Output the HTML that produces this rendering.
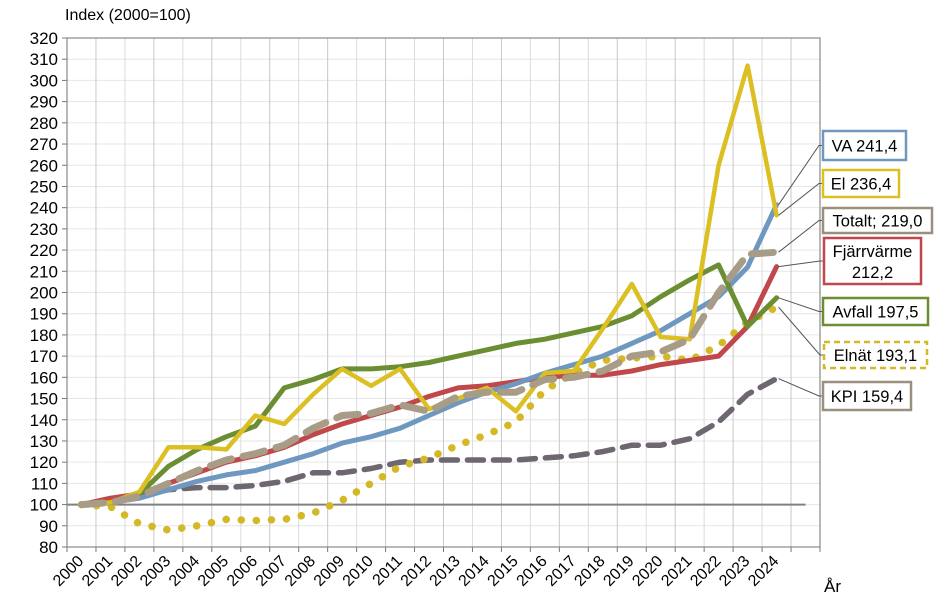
<!DOCTYPE html>
<html><head><meta charset="utf-8"><style>
html,body{margin:0;padding:0;background:#fff;}
svg{display:block;font-family:"Liberation Sans",Arial,sans-serif;}
</style></head><body>
<svg id="c" width="945" height="615" viewBox="0 0 945 615" xmlns="http://www.w3.org/2000/svg"></svg>
<script>
const S=document.getElementById('c');let h='';
const X0=67,CW=(820-67)/26,Y0=547,K=(547-38)/240;
const xd=i=>X0+CW*(i+0.5), yv=v=>Y0-(v-80)*K;
h+='<text x="65" y="20" font-size="16">Index (2000=100)</text>';
for(let v=80;v<=320;v+=10){const y=yv(v);h+=`<line x1="67" x2="820" y1="${y}" y2="${y}" stroke="#e6e6e6" stroke-width="1"/>`;h+=`<text x="58" y="${y+6}" font-size="17" text-anchor="end">${v}</text>`;h+=`<line x1="62" x2="67" y1="${y}" y2="${y}" stroke="#777"/>`;}
for(let i=0;i<=26;i++){const x=X0+CW*i;h+=`<line x1="${x}" x2="${x}" y1="38" y2="547" stroke="${i%2?'#c8c8c8':'#dcdcdc'}" stroke-width="1"/>`;h+=`<line x1="${x}" x2="${x}" y1="547" y2="552" stroke="#777"/>`;}
h+='<rect x="67" y="38" width="753" height="509" fill="none" stroke="#888" stroke-width="1.2"/>';
h+=`<line x1="67" x2="${xd(25)}" y1="${yv(100)}" y2="${yv(100)}" stroke="#808080" stroke-width="2"/>`;
for(let i=0;i<25;i++){const x=xd(i)+3,y=562;h+=`<text x="${x}" y="${y}" font-size="16" text-anchor="end" transform="rotate(-45 ${x} ${y})">${2000+i}</text>`;}
h+='<text x="824" y="592" font-size="17">År</text>';
const pts=d=>d.map((v,i)=>xd(i).toFixed(1)+','+yv(v).toFixed(1)).join(' ');
const line=(d,c,w,da,cap)=>{h+=`<polyline points="${pts(d)}" fill="none" stroke="${c}" stroke-width="${w}" stroke-linejoin="round" stroke-linecap="${cap||'round'}" ${da?`stroke-dasharray="${da}"`:''}/>`;};
const KPI=[100,102,104,107,108,108,109,111,115,115,117,120,121,121,121,121,122,123,125,128,128,131,139,152,159.4];
const EN=[100,99,91,88,90,93,92.5,93,96,102,110,118,122,128,133,139,154,162,168,169,170,168,175,186,193.1];
const RED=[100,103,105,110,115,120,123,127,133,138,142,146,151,155,156,158,160,161,161,163,166,168,170,184,212.2];
const VA=[100,101,103,107,111,114,116,120,124,129,132,136,142,148,153,157,162,166,170,176,182,190,198,212,241.4];
const GR=[100,101,105,118,126,132,137,155,159,164,164,165,167,170,173,176,178,181,184,189,198,206,213,184,197.5];
const EL=[100,101,106,127,127,126,142,138,152,164,156,164,145,150,155,144,162,163,183,204,179,178,260,307,236.4];
const TOT=[100,101,104,110,116,121,124,128,136,142,143,147,144,151,153,153,159,160,163,170,172,178,200,218,219];
line(KPI,'#6e6670',5.5,'16 10','round');
line(EN,'#d4b826',7.5,'0.1 15','round');
line(RED,'#c0474a',5);
line(VA,'#6e98bf',5);
line(GR,'#6b8e33',5);
line(EL,'#dcbf22',4.5);
line(TOT,'#a89c86',7,'22 12','round');
const cb=[
 [241.4,823,131,83,29,'#6e98bf','VA 241,4',0],
 [236.4,823,170,76,27,'#dcbf22','El 236,4',0],
 [219,823,208,109,25,'#9a9080','Totalt; 219,0',0],
 [212.2,824,238,97,46,'#c0474a','Fjärrvärme|212,2',0],
 [197.5,823,298,105,27,'#6b8e33','Avfall 197,5',0],
 [193.1,824,342,103,26,'#d4b826','Elnät 193,1',1],
 [159.4,823,382,88,28,'#9a9080','KPI 159,4',0]];
for(const [v,x,y,w,hh,c,t,d] of cb){
 const ly=y+hh/2;h+=`<polyline points="${xd(24)+2},${yv(v)} ${x-4},${ly} ${x},${ly}" fill="none" stroke="#555" stroke-width="1"/>`;
 h+=`<rect x="${x}" y="${y}" width="${w}" height="${hh}" fill="#fff" stroke="${c}" stroke-width="2.5" ${d?'stroke-dasharray="6 4"':''}/>`;
 const p=t.split('|');
 if(p.length==1)h+=`<text x="${x+w/2}" y="${y+hh/2+6}" font-size="16.5" text-anchor="middle">${p[0]}</text>`;
 else{h+=`<text x="${x+w/2}" y="${y+19}" font-size="16.5" text-anchor="middle">${p[0]}</text><text x="${x+w/2}" y="${y+40}" font-size="16.5" text-anchor="middle">${p[1]}</text>`;}
}
S.innerHTML=h;
</script>
</body></html>
